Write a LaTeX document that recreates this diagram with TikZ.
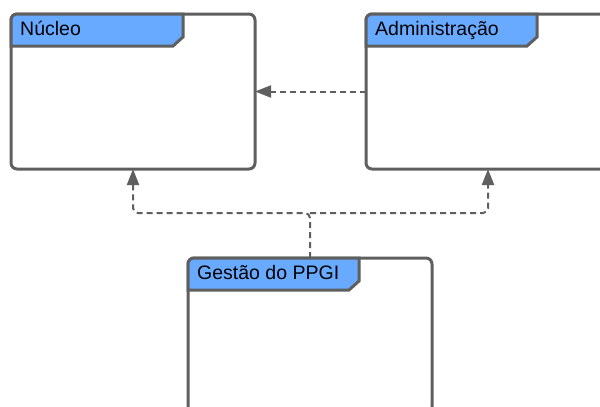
\documentclass[tikz,border=0pt]{standalone}
\usepackage{fontspec}
\setmainfont{Liberation Sans}
\usetikzlibrary{arrows.meta,calc}
\definecolor{lgray}{HTML}{5F5F5F}
\definecolor{tabblue}{HTML}{68AAFF}
\begin{document}
\begin{tikzpicture}[x=1pt,y=-1pt,
  frame/.style={draw=lgray,line width=3pt,fill=white,rounded corners=6pt,
    minimum width=244pt,minimum height=155pt,inner sep=0pt,outer sep=0pt},
  tabshape/.style={draw=lgray,line width=3pt,fill=tabblue,line join=miter},
  title/.style={anchor=base west,inner sep=0pt,font=\fontsize{19.5}{22}\selectfont,text=black},
  dep/.style={draw=lgray,line width=2pt,dash pattern=on 6pt off 4pt,rounded corners=5pt,
    -{Triangle[length=16pt,width=12pt]}}]
\useasboundingbox (0,0) rectangle (600,407);
\clip (0,0) rectangle (600,407);
\fill[white] (0,0) rectangle (600,407);
% frames
\node[frame] (nucleo) at (133,91.5) {};
\node[frame] (admin) at (488,91.5) {};
\node[frame] (gestao) at (310,335.5) {};
% tabs
\foreach \n/\w in {nucleo/172,admin/171,gestao/171}{
  \draw[tabshape] ($(\n.north west)+(0,32)$) [rounded corners=6pt] -- (\n.north west)
     [sharp corners] -- ($(\n.north west)+(\w,0)$) -- ($(\n.north west)+(\w,23)$)
     -- ($(\n.north west)+(\w-10,32)$) -- cycle;
}
% titles
\node[title] (tnucleo) at ($(nucleo.north west)+(9,21)$) {Núcleo};
\node[title] (tadmin) at ($(admin.north west)+(9,21)$) {Administração};
\node[title] (tgestao) at ($(gestao.north west)+(9,21)$) {Gestão do PPGI};
% connectors
\coordinate (junction) at ($(gestao.north)+(0,-45)$);
\draw[dep] (admin.west) -- (nucleo.east);
\draw[dep] (gestao.north) -- (junction) -| (nucleo.south);
\draw[dep] (junction) -| (admin.south);
\end{tikzpicture}
\end{document}
